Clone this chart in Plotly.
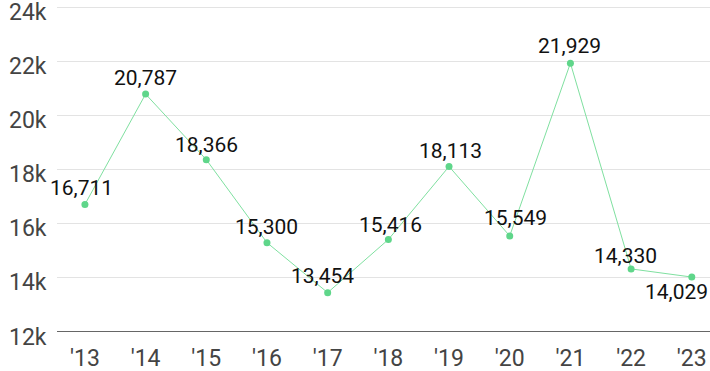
import plotly.graph_objects as go

years = ["'13", "'14", "'15", "'16", "'17", "'18", "'19", "'20", "'21", "'22", "'23"]
values = [16711, 20787, 18366, 15300, 13454, 15416, 18113, 15549, 21929, 14330, 14029]
y_ticks = [12000, 14000, 16000, 18000, 20000, 22000, 24000]
y_tick_labels = ["12k", "14k", "16k", "18k", "20k", "22k", "24k"]
label_xshift = [-3, 0, 0, 0, -5, 2, 1, 6, -1, -6, -15]
label_yshift = [16, 16, 15, 16, 17, 15, 15, 18, 17, 13, -15]

xs = list(range(len(years)))
fig = go.Figure()
fig.add_trace(go.Scatter(
    x=xs, y=values, mode="lines+markers",
    line=dict(color="#7fe0a0", width=1),
    marker=dict(color="#5fd68a", size=7),
    hoverinfo="skip", showlegend=False,
))
for i, v in enumerate(values):
    fig.add_annotation(x=xs[i], y=v, text=f"{v:,}", showarrow=False,
                       xshift=label_xshift[i], yshift=label_yshift[i],
                       font=dict(family="Roboto", size=21, color="#111111"))

# y tick labels drawn as annotations, slightly below their gridlines
for t, lab in zip(y_ticks, y_tick_labels):
    fig.add_annotation(x=0, xref="paper", y=t, yref="y", text=lab, showarrow=False,
                       xanchor="right", yanchor="middle", xshift=-8, yshift=-5,
                       font=dict(family="Roboto", size=23, color="#444444"))

fig.update_layout(
    width=710, height=371,
    margin=dict(l=57, r=0, t=6, b=39, autoexpand=False),
    paper_bgcolor="white", plot_bgcolor="white",
    font=dict(family="Roboto", color="#444444"),
    xaxis=dict(range=[-0.46, 10.3], tickvals=xs, ticktext=years,
               showgrid=False, zeroline=False, showline=False,
               tickfont=dict(size=23, color="#444444"), ticks="", ticklabelstandoff=10),
    yaxis=dict(range=[12000, 24040], tickvals=y_ticks, showticklabels=False,
               showgrid=True, gridcolor="#e3e3e3", gridwidth=1, zeroline=False,
               ticks=""),
)
fig.add_shape(type="line", xref="paper", yref="y", x0=0, x1=1, y0=12000, y1=12000,
              line=dict(color="#333333", width=1.5))
fig.write_html("out.html", post_script="document.body.style.margin='0';",
               config={"displayModeBar": False})
